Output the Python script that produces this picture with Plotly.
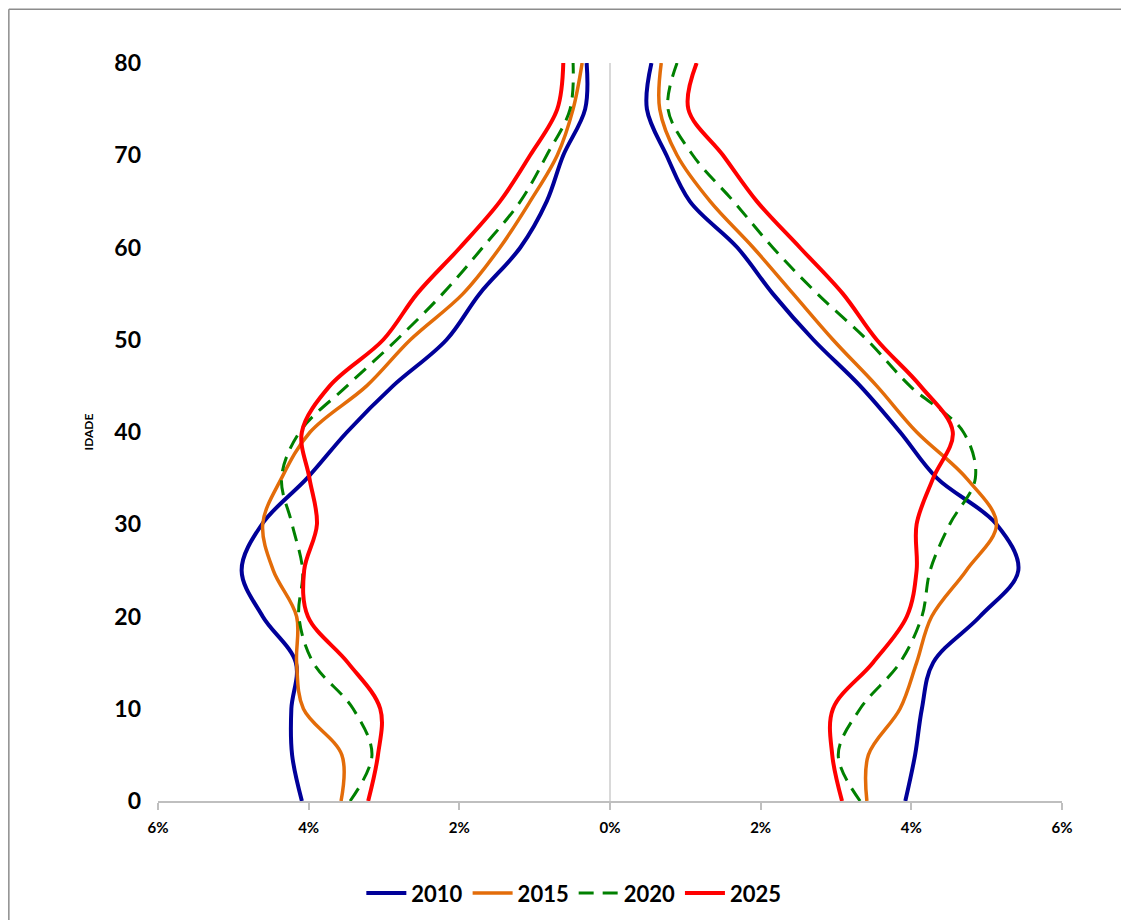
import plotly.graph_objects as go

ages = [0, 5, 10, 15, 20, 25, 30, 35, 40, 45, 50, 55, 60, 65, 70, 75, 80]
years = ["2010", "2015", "2020", "2025"]

# Males (left side), % of population
male_2010 = [4.09, 4.22, 4.23, 4.17, 4.61, 4.89, 4.62, 4.02, 3.49, 2.88, 2.17, 1.73, 1.19, 0.84, 0.62, 0.33, 0.31]
male_2015 = [3.57, 3.56, 4.07, 4.16, 4.16, 4.47, 4.61, 4.36, 3.98, 3.23, 2.65, 1.95, 1.46, 1.06, 0.70, 0.49, 0.37]
male_2020 = [3.45, 3.16, 3.41, 3.94, 4.13, 4.08, 4.22, 4.36, 4.12, 3.49, 2.83, 2.22, 1.69, 1.19, 0.84, 0.53, 0.49]
male_2025 = [3.21, 3.08, 3.05, 3.48, 4.01, 4.06, 3.89, 3.99, 4.09, 3.72, 3.01, 2.56, 1.99, 1.46, 1.06, 0.70, 0.62]

# Females (right side), % of population
female_2010 = [3.92, 4.05, 4.14, 4.29, 4.91, 5.42, 5.13, 4.34, 3.85, 3.32, 2.70, 2.16, 1.69, 1.06, 0.75, 0.49, 0.55]
female_2015 = [3.41, 3.43, 3.85, 4.07, 4.27, 4.73, 5.13, 4.73, 4.07, 3.54, 2.96, 2.43, 1.90, 1.33, 0.89, 0.66, 0.68]
female_2020 = [3.32, 3.03, 3.32, 3.85, 4.14, 4.25, 4.51, 4.85, 4.69, 3.98, 3.41, 2.75, 2.16, 1.64, 1.10, 0.77, 0.89]
female_2025 = [3.08, 2.95, 2.96, 3.49, 3.94, 4.07, 4.07, 4.29, 4.55, 4.12, 3.54, 3.09, 2.52, 1.95, 1.50, 1.04, 1.15]

x_tickvals = [-6, -4, -2, 0, 2, 4, 6]
x_ticktext = ["6%", "4%", "2%", "0%", "2%", "4%", "6%"]
y_tickvals = [0, 10, 20, 30, 40, 50, 60, 70, 80]

males = [male_2010, male_2015, male_2020, male_2025]
females = [female_2010, female_2015, female_2020, female_2025]
colors = ["#000099", "#E36C09", "#008000", "#FF0000"]
dashes = ["solid", "solid", "15px,9px", "solid"]
widths = [4, 3.5, 3, 4]

FONT = "Lato, Open Sans, sans-serif"

fig = go.Figure()
for yr, m, f, c, d, w in zip(years, males, females, colors, dashes, widths):
    fig.add_trace(go.Scatter(
        x=[-v for v in m], y=ages, mode="lines", name=yr, legendgroup=yr,
        line=dict(color=c, width=w, dash=d, shape="spline", smoothing=1.0),
        showlegend=True))
    fig.add_trace(go.Scatter(
        x=f, y=ages, mode="lines", name=yr, legendgroup=yr,
        line=dict(color=c, width=w, dash=d, shape="spline", smoothing=1.0),
        showlegend=False))

fig.update_layout(
    width=1121, height=912,
    paper_bgcolor="white", plot_bgcolor="white",
    margin=dict(l=150, r=67, t=55, b=119, autoexpand=False),
    font=dict(family=FONT, color="black"),
    showlegend=True,
    legend=dict(orientation="h", x=0.46, xanchor="center", y=-0.125, yanchor="middle",
                font=dict(size=22, family=FONT, color="black", weight="bold"),
                itemwidth=40, traceorder="normal"),
    xaxis=dict(range=[-6, 6], tickvals=x_tickvals, ticktext=x_ticktext,
               showgrid=False, zeroline=True, zerolinecolor="#d9d9d9", zerolinewidth=2,
               showline=True, linecolor="#bfbfbf", linewidth=1.5,
               ticks="outside", ticklen=7, tickcolor="#bfbfbf", tickwidth=1.5,
               ticklabelstandoff=5,
               tickfont=dict(size=15, family=FONT, color="black", weight="bold")),
    yaxis=dict(range=[0, 80], tickvals=y_tickvals, showgrid=False, zeroline=False,
               showline=False, ticks="", ticklabelstandoff=16,
               tickfont=dict(size=23, family=FONT, color="black", weight="bold"),
               title=dict(text="<b>IDADE</b>", font=dict(size=12, family=FONT, color="black"),
                          standoff=18)),
    shapes=[
        dict(type="line", xref="paper", yref="paper", x0=-0.165, x1=-0.165, y0=-0.2, y1=1.073,
             line=dict(color="#8c8c8c", width=1.5)),
        dict(type="line", xref="paper", yref="paper", x0=-0.165, x1=1.08, y0=1.073, y1=1.073,
             line=dict(color="#8c8c8c", width=1.5)),
    ],
)

fig.write_html("out.html")
